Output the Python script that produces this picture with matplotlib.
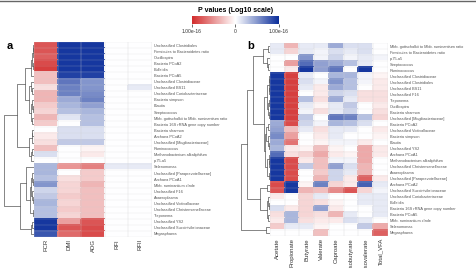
import numpy as np
import matplotlib
matplotlib.use("Agg")
import matplotlib.pyplot as plt
from matplotlib.colors import LinearSegmentedColormap
from matplotlib.lines import Line2D

plt.rcParams['font.family'] = ['Liberation Sans', 'DejaVu Sans']

# ---- panel a data ----
rows_a = ["Unclassified Clostridiales", "Firmicutes to Bacteroidetes ratio", "Oscillospira",
          "Bacteria PCoA2", "Bulleidia", "Bacteria PCoA5", "Unclassified Clostridiaceae",
          "Unclassified BS11", "Unclassified Coriobacteriaceae", "Bacteria simpson", "Blautia",
          "Streptococcus", "Mbb. gottschalkii to Mbb. ruminantium ratio",
          "Bacteria 16S rRNA gene copy number", "Bacteria shannon", "Archaea PCoA2",
          "Unclassified [Mogibacteriaceae]", "Ruminococcus", "Methanobacterium alkaliphilum",
          "p-75-a5", "Selenomonas", "Unclassified [Paraprevotellaceae]", "Archaea PCoA1",
          "Mbb. ruminantium clade", "Unclassified F16", "Anaeroplasma",
          "Unclassified Victivallaceae", "Unclassified Christensenellaceae", "Treponema",
          "Unclassified YS2", "Unclassified Succinivibrionaceae", "Megasphaera"]
cols_a = ["FCR", "DMI", "ADG", "RFI", "RFII"]
fcr = [-0.8, -0.8, -0.75, -0.85, -0.9, -0.3, -0.3, -0.15, -0.35, -0.35, -0.25, -0.2, -0.35, -0.25,
       0.0, -0.1, -0.15, -0.3, 0.15, 0.0, 0.35, 0.35, 0.3, 0.5, 0.2, 0.25, 0.35, 0.3, 0.3,
       0.95, 0.95, 0.8]
dmi = [0.95, 0.95, 0.95, 0.95, 0.95, 0.9, 0.65, 0.6, 0.6, 0.4, 0.35, 0.3, 0.12, 0.0, 0.15, 0.15,
       0.25, 0.0, 0.0, 0.0, -0.5, 0.0, -0.15, -0.2, -0.2, -0.25, -0.2, -0.25, -0.2,
       -0.45, -0.8, -0.7]
adg = [0.95, 0.95, 0.95, 0.95, 0.95, 0.9, 0.5, 0.5, 0.55, 0.6, 0.45, 0.35, 0.3, 0.3, 0.15, 0.15,
       0.25, -0.05, -0.1, 0.0, -0.6, -0.25, -0.25, -0.35, -0.3, -0.3, -0.3, -0.3, -0.3,
       -0.8, -0.85, -0.85]
rfi = [0.0] * 20 + [0.1] + [0.0] * 11
rfii = [0.0] * 7 + [0.1] + [0.0] * 12 + [0.1] + [0.0] * 11

# dendrogram a: [left, right, height]
tree_a = [
    [[[[[[0, 1, 0.02], 2, 0.04], [3, 4, 0.03], 0.06], 5, 0.1],
      [[6, [7, 8, 0.05], 0.1], [[9, [10, 11, 0.04], 0.07], [12, 13, 0.05], 0.09], 0.16], 0.3],
     [[[14, 15, 0.05], 16, 0.08], [[17, 18, 0.06], 19, 0.1], 0.17], 0.57],
    [[20, [[[21, [22, 23, 0.04], 0.07], [24, [25, 26, 0.03], 0.06], 0.1], [27, 28, 0.04], 0.13], 0.27],
     [[29, 30, 0.05], 31, 0.1], 0.47],
    1.0]

# ---- panel b data ----
rows_b = ["Mbb. gottschalkii to Mbb. ruminantium ratio", "Firmicutes to Bacteroidetes ratio",
          "p-75-a5", "Streptococcus", "Ruminococcus", "Unclassified Clostridiaceae",
          "Unclassified Clostridiales", "Unclassified BS11", "Unclassified F16", "Treponema",
          "Oscillospira", "Bacteria shannon", "Unclassified [Mogibacteriaceae]", "Bacteria PCoA2",
          "Unclassified Victivallaceae", "Bacteria simpson", "Blautia", "Unclassified YS2",
          "Archaea PCoA1", "Methanobacterium alkaliphilum", "Unclassified Christensenellaceae",
          "Anaeroplasma", "Unclassified [Paraprevotellaceae]", "Archaea PCoA2",
          "Unclassified Succinivibrionaceae", "Unclassified Coriobacteriaceae", "Bulleidia",
          "Bacteria 16S rRNA gene copy number", "Bacteria PCoA5", "Mbb. ruminantium clade",
          "Selenomonas", "Megasphaera"]
cols_b = ["Acetate", "Propionate", "Butyrate", "Valerate", "Caproate", "Isobutyrate",
          "Isovalerate", "Total_VFA"]
acetate = [0.1, 0.1, 0.0, 0.0, 0.0, 0.95, 0.95, 0.95, 0.95, 0.95, 0.95, 0.95, 0.95, 0.4, 0.45, 0.55,
           0.4, 0.35, 0.7, 0.95, 0.95, 0.95, 0.95, -0.85, -0.8, -0.1, 0.0, 0.15, -0.15, -0.1, -0.25, 0.0]
propionate = [-0.35, -0.2, 0.0, -0.45, -0.1, -0.9, -0.9, -0.9, -0.9, -0.9, -0.9, -0.9, -0.9, -0.85,
              -0.3, -0.45, -0.65, -0.1, -0.15, -0.85, -0.85, -0.85, -0.85, 0.95, 0.95, 0.0, 0.0,
              -0.1, 0.35, 0.35, 0.1, 0.0]
butyrate = [0.1, 0.1, 0.5, 0.7, 0.95, 0.1, 0.15, 0.1, 0.0, 0.3, 0.1, 0.05, 0.25, 0.2, 0.1, 0.0, 0.0,
            -0.05, -0.2, -0.1, 0.25, 0.0, 0.0, -0.05, -0.35, -0.2, -0.2, -0.2, -0.2, -0.15, 0.1, 0.0]
valerate = [0.1, 0.05, 0.05, 0.45, 0.45, 0.0, 0.05, -0.1, -0.1, -0.15, -0.05, -0.15, 0.0, 0.05, -0.15,
            -0.1, -0.05, -0.3, -0.4, -0.3, -0.3, -0.25, -0.35, 0.6, -0.3, 0.1, -0.15, 0.45, -0.15,
            -0.1, -0.05, -0.3]
caproate = [0.4, 0.15, 0.2, 0.4, 0.65, 0.35, 0.5, 0.4, 0.2, 0.4, 0.1, 0.1, 0.65, 0.35, 0.1, 0.1, 0.05,
            -0.05, -0.1, 0.05, 0.45, 0.2, 0.2, -0.2, -0.55, 0.0, -0.05, -0.1, -0.35, -0.1, 0.0, 0.0]
isobutyrate = [0.15, 0.1, 0.05, 0.3, 0.0, 0.35, 0.3, 0.3, 0.15, 0.1, 0.25, 0.2, 0.6, 0.3, 0.1, 0.0,
               0.05, 0.0, -0.05, 0.05, 0.15, 0.1, -0.1, -0.1, -0.8, 0.0, 0.0, 0.0, 0.1, 0.15, 0.0, 0.0]
isovalerate = [0.15, 0.15, 0.1, 0.1, 0.95, 0.05, 0.05, 0.0, -0.15, -0.15, 0.0, 0.0, 0.3, 0.15, 0.0, 0.0,
               -0.1, -0.4, -0.4, -0.4, -0.35, -0.35, -0.75, 0.75, -0.2, 0.1, 0.1, 0.0, 0.0, 0.1, 0.25, 0.0]
total_vfa = [0.0, 0.0, 0.05, 0.0, 0.0, -0.05, -0.1, -0.1, -0.15, -0.15, -0.1, -0.15, -0.2, 0.0, -0.1,
             -0.05, 0.0, -0.1, -0.1, 0.0, 0.0, 0.0, -0.1, 0.1, 0.05, 0.1, 0.1, 0.1, 0.1, 0.0, -0.4, -0.75]

tree_b = [
    [[[[0, 1, 0.06], [2, [3, 4, 0.08], 0.12], 0.25],
      [[[[5, 6, 0.02], [7, 8, 0.03], 0.05], [[9, 10, 0.03], [11, 12, 0.04], 0.06], 0.1],
       [[[13, 14, 0.06], [15, [16, 17, 0.05], 0.08], 0.14],
        [[18, [19, 20, 0.03], 0.05], [21, 22, 0.04], 0.09], 0.18], 0.22], 0.6],
     [[23, 24, 0.1], [[25, [26, 27, 0.05], 0.08], [28, 29, 0.06], 0.12], 0.35], 0.8],
    [30, 31, 0.15],
    1.0]

cmap = LinearSegmentedColormap.from_list("pv", ["#d22b2b", "#ffffff", "#0a2d9a"])
W, H = 477, 268


def box(x0, y0, x1, y1):
    return [x0 / W, 1 - y1 / H, (x1 - x0) / W, (y1 - y0) / H]


def draw_tree(ax, node):
    if isinstance(node, int):
        return node + 0.5, 0.0
    ya, ha = draw_tree(ax, node[0])
    yb, hb = draw_tree(ax, node[1])
    h = node[2]
    ax.plot([ha, h, h, hb], [ya, ya, yb, yb], color="#555555", lw=0.5)
    return (ya + yb) / 2, h


def heatmap(ax, vals, rows, cols):
    ax.pcolormesh(vals, cmap=cmap, vmin=-1, vmax=1, edgecolors="face", linewidth=0.2)
    # faint cell grid
    ax.hlines(np.arange(len(rows) + 1), 0, len(cols), color="#d0d0d0", lw=0.25, alpha=0.6)
    ax.vlines(np.arange(len(cols) + 1), 0, len(rows), color="#d0d0d0", lw=0.3, alpha=0.8)
    ax.set_xlim(0, len(cols))
    ax.set_ylim(len(rows), 0)
    ax.set_xticks(np.arange(len(cols)) + 0.5)
    ax.set_xticklabels(cols, rotation=90, fontsize=4.3, color="#333333")
    ax.set_yticks(np.arange(len(rows)) + 0.5)
    ax.set_yticklabels(rows, fontsize=2.75, color="#555555")
    ax.yaxis.tick_right()
    ax.tick_params(length=0, pad=1.5)
    for s in ax.spines.values():
        s.set_visible(False)


fig = plt.figure(figsize=(W / 100, H / 100), dpi=100)

vals_a = np.array([fcr, dmi, adg, rfi, rfii]).T
ax_a = fig.add_axes(box(34, 42, 152, 237))
heatmap(ax_a, vals_a, rows_a, cols_a)
ax_da = fig.add_axes(box(3, 42, 34, 237))
draw_tree(ax_da, tree_a)
ax_da.set_xlim(1.03, 0)
ax_da.set_ylim(len(rows_a), 0)
ax_da.axis("off")
fig.text(7 / W, 1 - 46 / H, "a", fontsize=8, fontweight="bold", va="center")

vals_b = np.array([acetate, propionate, butyrate, valerate, caproate, isobutyrate,
                   isovalerate, total_vfa]).T
ax_b = fig.add_axes(box(270, 43, 388, 236))
heatmap(ax_b, vals_b, rows_b, cols_b)
ax_db = fig.add_axes(box(240, 43, 270, 236))
draw_tree(ax_db, tree_b)
ax_db.set_xlim(1.05, 0)
ax_db.set_ylim(len(rows_b), 0)
ax_db.axis("off")
fig.text(247 / W, 1 - 46 / H, "b", fontsize=8, fontweight="bold", va="center")

# colorbar
cax = fig.add_axes(box(192, 16, 279, 24))
sm = plt.cm.ScalarMappable(cmap=cmap, norm=plt.Normalize(-1, 1))
cb = fig.colorbar(sm, cax=cax, orientation="horizontal")
cb.outline.set_visible(False)
cb.set_ticks([-1, 0, 1])
cb.set_ticklabels(["1.00e-16", "0", "1.00e-16"])
cax.tick_params(labelsize=3.6, length=2, width=0.5, pad=1.5, colors="#333333")
cax.set_title("P values (Log10 scale)", fontsize=5, fontweight="bold", pad=3)

fig.add_artist(Line2D([0, 1], [0.996, 0.996], color="#666666", lw=1.0))

fig.savefig("out.png", dpi=100)
